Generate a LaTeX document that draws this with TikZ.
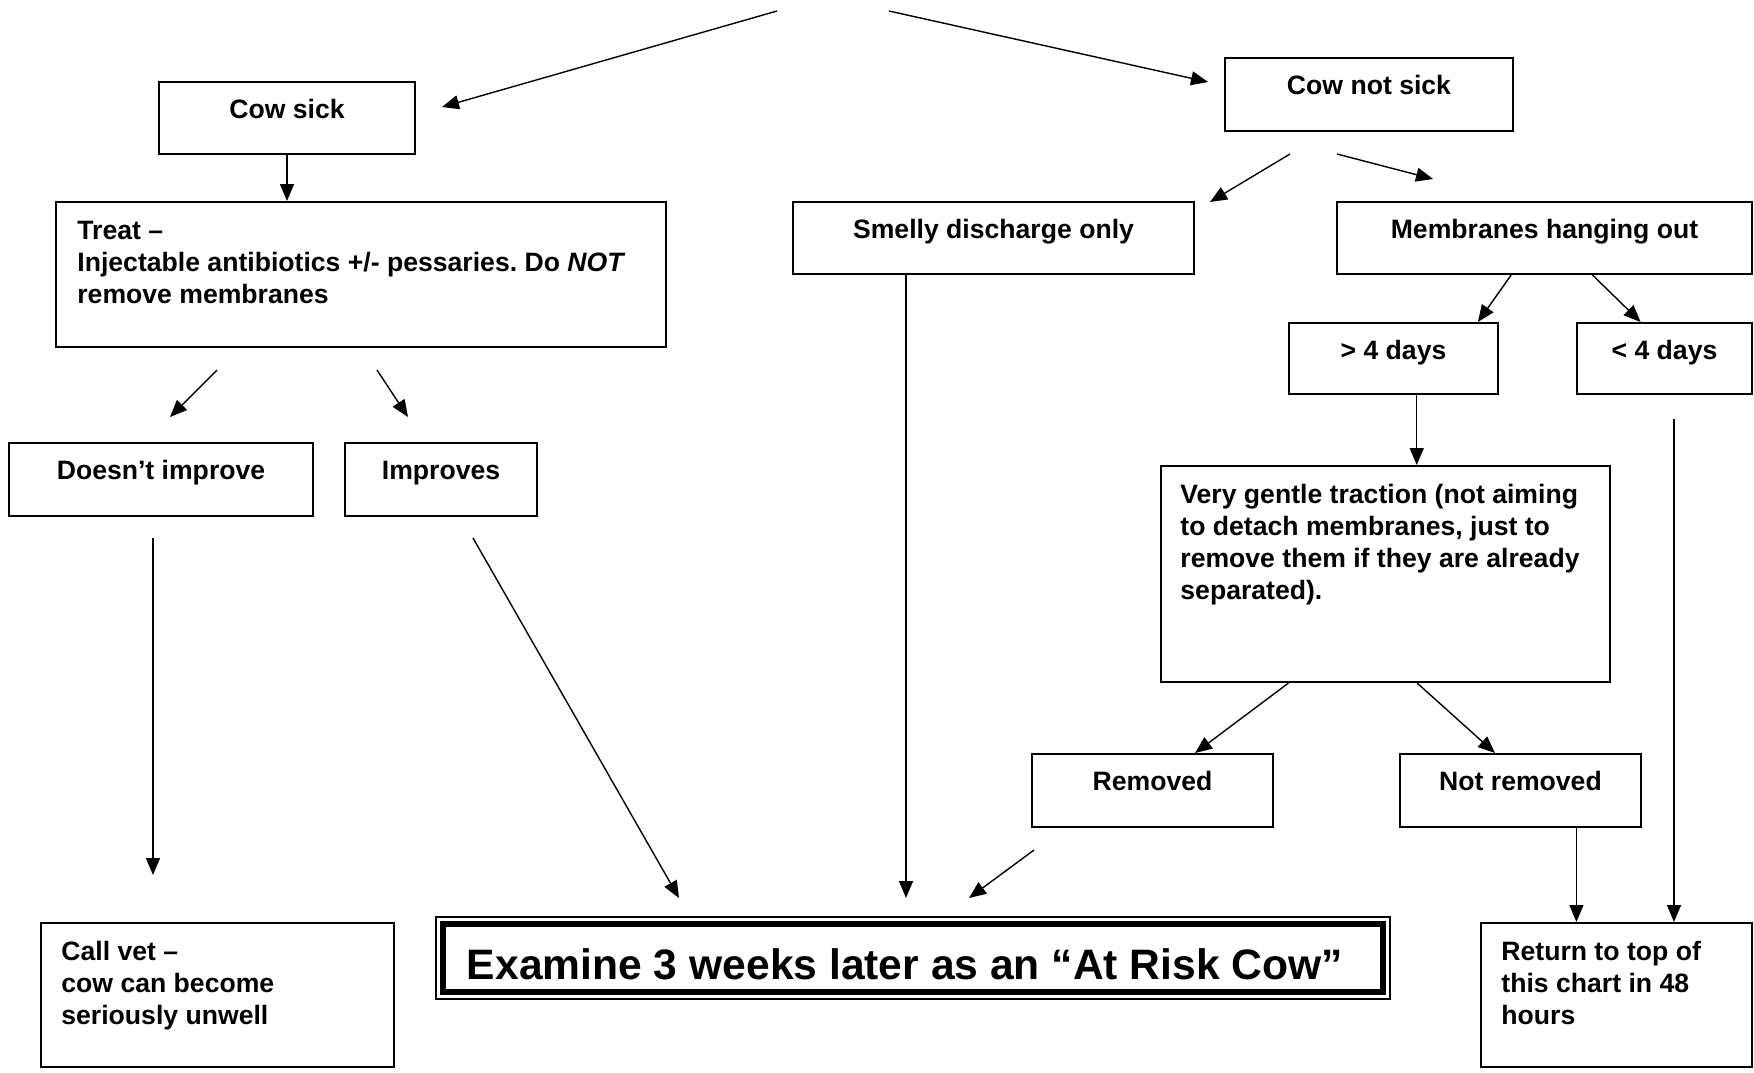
\documentclass[tikz,border=0pt]{standalone}
\usepackage{fontspec}
\setmainfont{Liberation Sans}
\usetikzlibrary{arrows.meta,fit,calc}

\tikzset{
  box/.style={draw, line width=1pt, inner sep=0pt},
  lbl/.style={font=\bfseries\frenchspacing\fontsize{13.3}{16}\selectfont, inner sep=0pt, anchor=base},
  para/.style={lbl, align=left, anchor=north west},
  arr/.style={-{Triangle[length=8.5pt,width=7pt]}, line width=0.7pt},
}

\begin{document}
\begin{tikzpicture}[x=0.5pt, y=-0.5pt]
    \useasboundingbox (0,0) rectangle (1754,1072);

    % One-line boxes, text near the top
    \foreach \nm/\xa/\ya/\xb/\yb/\txt in {
        sick/159/82/415/154/{Cow sick},
        notsick/1225/58/1513/131/{Cow not sick},
        noimp/9/443/313/516/{Doesn’t improve},
        imp/345/443/537/516/{Improves},
        smelly/793/202/1194/274/{Smelly discharge only},
        membr/1337/202/1752/274/{Membranes hanging out},
        more/1289/323/1498/394/{> 4 days},
        less/1577/323/1752/394/{< 4 days},
        removed/1032/754/1273/827/{Removed},
        notrem/1400/754/1641/827/{Not removed}}
    {
        \node[box, fit={(\xa,\ya) (\xb,\yb)}] (\nm) {};
        \node[lbl] (\nm-tx) at ([yshift=-18.8pt]\nm.north) {\txt};
    }

    % Boxes with several lines
    \node[box, fit={(56,202) (666,347)}] (treat) {};
    \node[para] (treat-tx) at ([shift={(11pt,-9.8pt)}]treat.north west)
        {Treat --\\Injectable antibiotics +/- pessaries. Do \textit{NOT}\\remove membranes};
    \node[box, fit={(1161,466) (1610,682)}] (gentle) {};
    \node[para] (gentle-tx) at ([shift={(10pt,-9.4pt)}]gentle.north west)
        {Very gentle traction (not aiming\\to detach membranes, just to\\remove them if they are already\\separated).};
    \node[box, fit={(41,923) (394,1067)}] (vet) {};
    \node[para] (vet-tx) at ([shift={(10.5pt,-9.4pt)}]vet.north west)
        {Call vet --\\cow can become\\seriously unwell};
    \node[box, fit={(1481,923) (1752,1067)}] (return) {};
    \node[para] (return-tx) at ([shift={(10.5pt,-9.4pt)}]return.north west)
        {Return to top of\\this chart in 48\\hours};

    % Framed result box
    \node[draw, line width=0.6pt, inner sep=0pt, fit={(436,917) (1390,999)}] (exam) {};
    \draw[line width=3pt] ([shift={(4pt,-4pt)}]exam.north west) rectangle ([shift={(-4pt,4pt)}]exam.south east);
    \node[lbl, font=\bfseries\fontsize{21.3}{25}\selectfont] (exam-tx) at ([shift={(-4pt,-31.5pt)}]exam.north)
        {Examine 3 weeks later as an “At Risk Cow”};

    % Free arrow ends
    \coordinate (top1) at (777,11);
    \coordinate (top2) at (889,11);
    \coordinate (a-sick) at (442,107);
    \coordinate (a-notsick) at (1208,82);
    \coordinate (t1) at (217,370);
    \coordinate (t1e) at (170,417);
    \coordinate (t2) at (377,370);
    \coordinate (t2e) at (408,417);
    \coordinate (ni) at (153,538);
    \coordinate (nie) at (153,875);
    \coordinate (im) at (473,538);
    \coordinate (ime) at (679,898);
    \coordinate (sme) at (906,898);
    \coordinate (rm) at (1034,850);
    \coordinate (rme) at (969,898);
    \coordinate (ns1) at (1290,154);
    \coordinate (ns1e) at (1210,202);
    \coordinate (ns2) at (1337,154);
    \coordinate (ns2e) at (1433,179);
    \coordinate (ls) at (1674,419);

    % Edges
    \draw[arr] (top1) -- (a-sick);
    \draw[arr] (top2) -- (a-notsick);
    \draw[arr] (sick.south) -- (sick.south |- treat.north);
    \draw[arr] (t1) -- (t1e);
    \draw[arr] (t2) -- (t2e);
    \draw[arr] (ni) -- (nie);
    \draw[arr] (im) -- (ime);
    \draw[arr] (smelly.south -| sme) -- (sme);
    \draw[arr] (rm) -- (rme);
    \draw[arr] (ns1) -- (ns1e);
    \draw[arr] (ns2) -- (ns2e);
    \draw[arr] ($(membr.south west)!0.42!(membr.south east)$) -- ($(more.north west)!0.9!(more.north east)$);
    \draw[arr] ($(membr.south west)!0.615!(membr.south east)$) -- ($(less.north west)!0.365!(less.north east)$);
    \draw[arr] ($(more.south west)!0.61!(more.south east)$) coordinate (m1) -- (m1 |- gentle.north);
    \draw[arr] ($(gentle.south west)!0.285!(gentle.south east)$) -- ($(removed.north west)!0.675!(removed.north east)$ |- 0,731);
    \draw[arr] ($(gentle.south west)!0.57!(gentle.south east)$) -- ($(notrem.north west)!0.395!(notrem.north east)$ |- 0,731);
    \draw[arr] ($(notrem.south west)!0.73!(notrem.south east)$) coordinate (n1) -- (n1 |- return.north);
    \draw[arr] (ls) -- (ls |- return.north);
\end{tikzpicture}
\end{document}
